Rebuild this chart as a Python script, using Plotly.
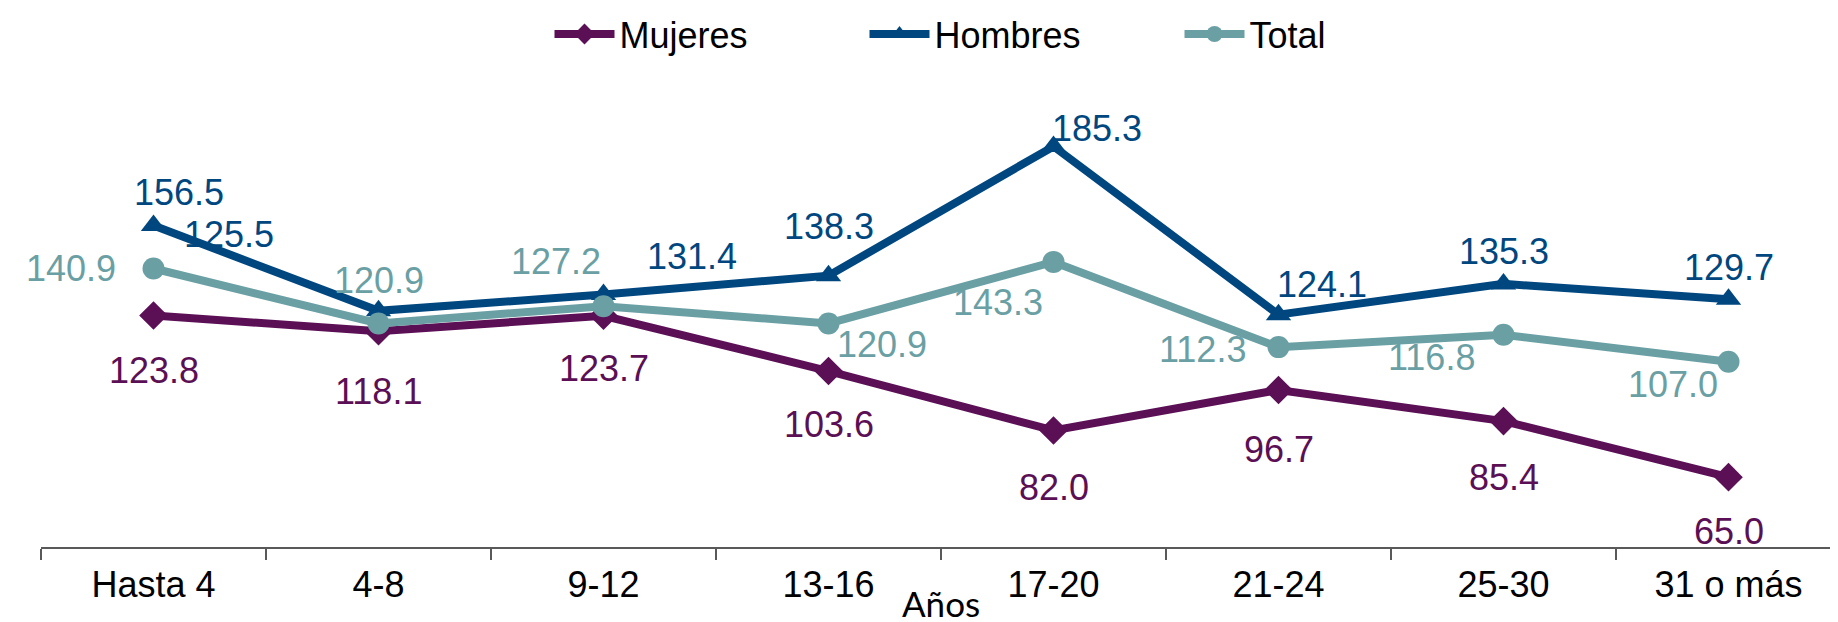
import plotly.graph_objects as go

categories = ["Hasta 4", "4-8", "9-12", "13-16", "17-20", "21-24", "25-30", "31 o más"]
mujeres = [123.8, 118.1, 123.7, 103.6, 82.0, 96.7, 85.4, 65.0]
hombres = [156.5, 125.5, 131.4, 138.3, 185.3, 124.1, 135.3, 129.7]
total = [140.9, 120.9, 127.2, 120.9, 143.3, 112.3, 116.8, 107.0]

# label offsets in pixels (dx, dy) as placed in the original chart
off_muj = [(0, -55), (0, -60), (0, -53), (0, -53), (0, -57), (0, -59), (0, -56), (0, -54)]
off_hom = [(25, 33), (-150, 76), (88, 38), (0, 49), (43, 18), (43, 30), (0, 32), (0, 32)]
off_tot = [(-83, 0), (0, 43), (-48, 45), (53, -21), (-56, -41), (-76, -2), (-72, -23), (-56, -23)]

C_MUJ = "#5B0F55"
C_HOM = "#004780"
C_TOT = "#6AA0A4"
FONT = "Liberation Sans, Arial, sans-serif"

fig = go.Figure()
series = [
    ("Mujeres", mujeres, C_MUJ, "diamond", off_muj),
    ("Hombres", hombres, C_HOM, "triangle-up", off_hom),
    ("Total", total, C_TOT, "circle", off_tot),
]
for name, vals, col, sym, offs in series:
    fig.add_trace(go.Scatter(
        x=categories, y=vals, name=name, mode="lines+markers",
        line=dict(color=col, width=8),
        marker=dict(symbol=sym, size=22, color=col),
    ))

for name, vals, col, sym, offs in series:
    for cat, v, (dx, dy) in zip(categories, vals, offs):
        fig.add_annotation(
            x=cat, y=v, text=f"{v:.1f}", showarrow=False,
            xshift=dx, yshift=dy,
            font=dict(family=FONT, size=36, color=col),
        )

fig.add_annotation(
    x=0.5, y=0, xref="paper", yref="paper", text="Años", showarrow=False,
    yanchor="bottom", yshift=-79,
    font=dict(family="Lato, Open Sans, sans-serif", size=35, color="black"),
)

fig.update_xaxes(
    type="category", range=[-0.5, 7.5], tickson="boundaries",
    ticks="outside", ticklen=11, tickwidth=2, tickcolor="#595959",
    showline=True, linecolor="#595959", linewidth=2, automargin=False,
    ticklabelstandoff=5,
    showgrid=False, tickfont=dict(family=FONT, size=36, color="black"),
)
fig.update_yaxes(range=[39.6, 200], visible=False, showgrid=False, zeroline=False,
                 automargin=False)

fig.update_layout(
    width=1838, height=622,
    margin=dict(l=33, r=5, t=98, b=83),
    paper_bgcolor="white", plot_bgcolor="white",
    showlegend=True,
    legend=dict(
        orientation="h", x=0.545, xanchor="center",
        yref="container", y=0.958, yanchor="middle",
        font=dict(family=FONT, size=36, color="black"),
        itemwidth=60, entrywidth=240,
    ),
)

fig.write_html("out.html")
